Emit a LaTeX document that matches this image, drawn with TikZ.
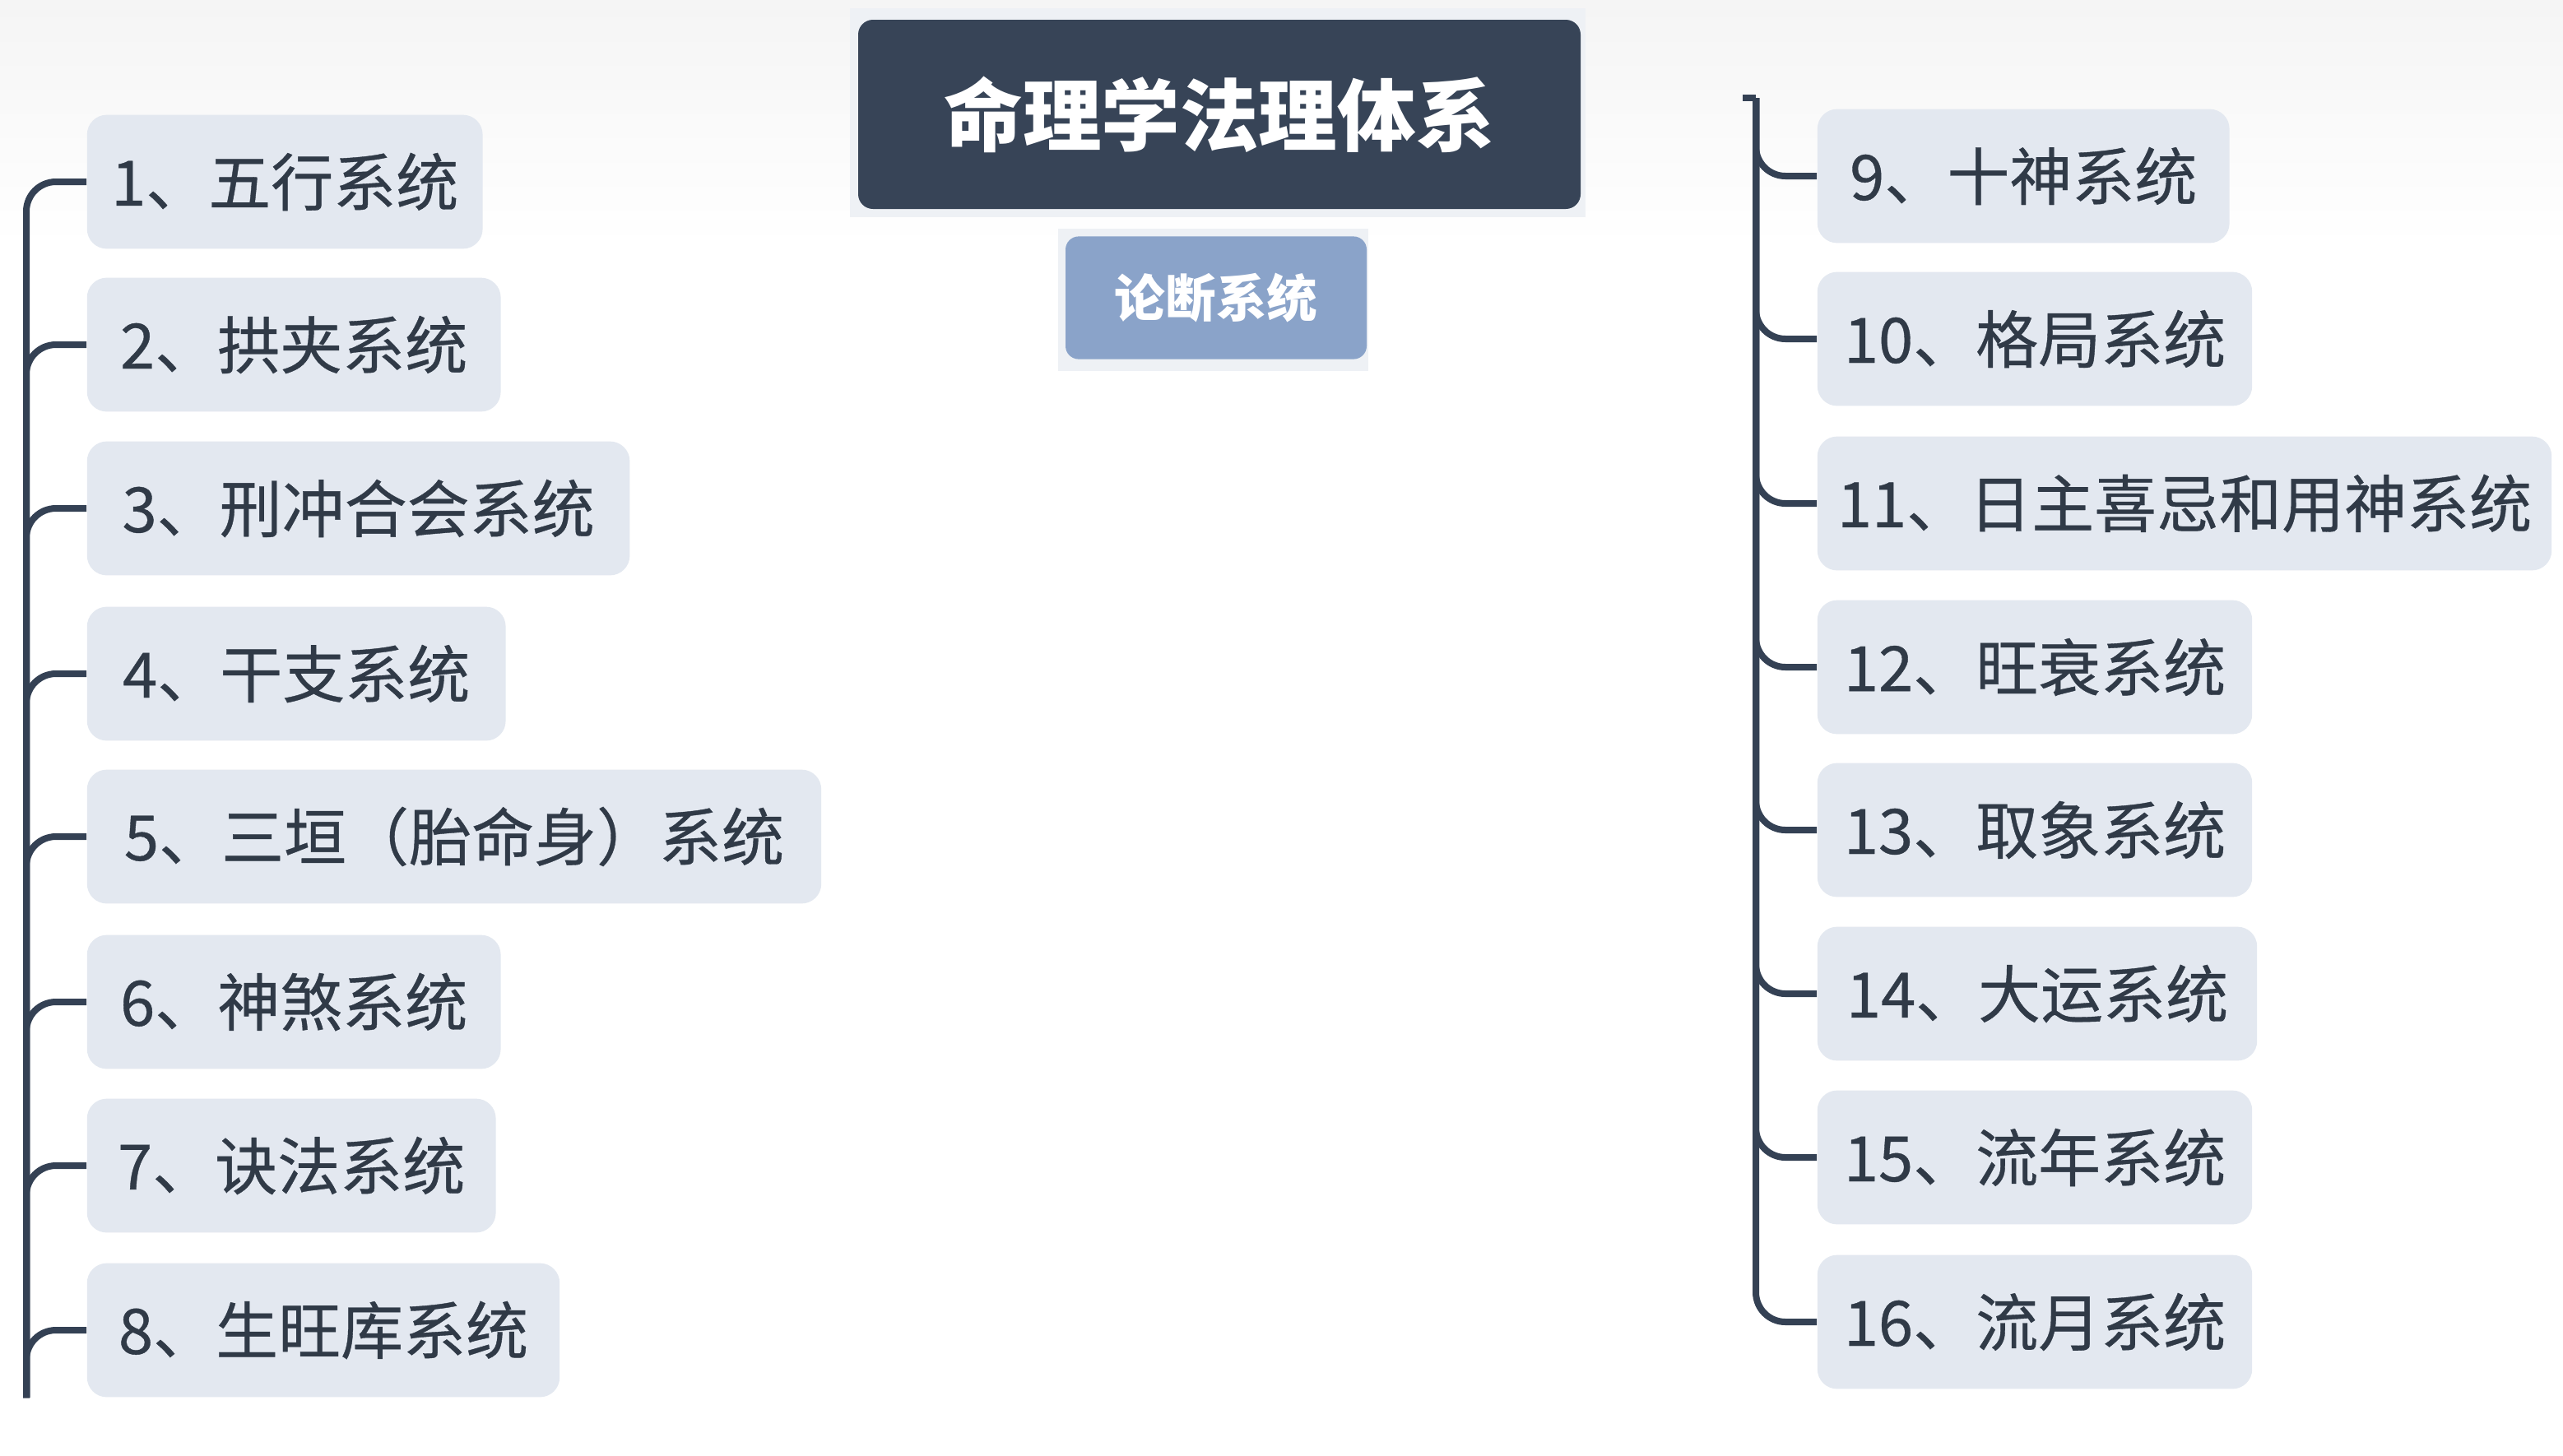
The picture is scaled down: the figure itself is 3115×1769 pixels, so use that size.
\documentclass[tikz,border=0pt]{standalone}
\usepackage{fontspec}
\newfontfamily\cjk{Noto Sans CJK SC}
\newfontfamily\cjkitem[FakeBold=0.5]{Noto Sans CJK SC}
\usetikzlibrary{positioning}
\definecolor{TitleFill}{HTML}{374457}
\definecolor{SubFill}{HTML}{8AA3C9}
\definecolor{ItemFill}{HTML}{E3E8F0}
\definecolor{ItemText}{HTML}{303A47}
\definecolor{BranchLine}{HTML}{344154}
\definecolor{HaloFill}{HTML}{EEF1F5}

\begin{document}
\begin{tikzpicture}[x=0.25pt, y=-0.25pt,
    item/.style={fill=ItemFill, rounded corners=6pt, anchor=west, minimum height=40.7pt,
        inner xsep=5.5pt, text=ItemText, font=\cjkitem\fontsize{19}{21}\selectfont},
    titlebox/.style={fill=TitleFill, rounded corners=4.5pt, minimum width=219.5pt,
        minimum height=57.5pt, text=white, font=\cjk\bfseries\fontsize{23.9}{26}\selectfont},
    subbox/.style={fill=SubFill, rounded corners=4pt, minimum width=91.5pt,
        minimum height=37.3pt, text=white, font=\cjk\bfseries\fontsize{15.4}{17}\selectfont},
    branch/.style={draw=BranchLine, line width=2pt, rounded corners=9pt}]

    \useasboundingbox (0,0) rectangle (3115,1769);
    \fill[white] (0,0) rectangle (3115,1769);
    \shade[top color=black!4, bottom color=white] (0,0) rectangle (3115,300);

    % Halos
    \fill[HaloFill] (1033,10) rectangle (1927,264);
    \fill[HaloFill] (1286,278) rectangle (1663,451);

    \node[titlebox] (root) at (1482,139) {命理学法理体系};
    \node[subbox] (judge) at (1478,362) {论断系统};

    % Columna izquierda
    \node[item, minimum width=120.2pt] (n1) at (105,221) {1、五行系统};
    \node[item, minimum width=125.7pt] (n2) at (105,419) {2、拱夹系统};
    \node[item, minimum width=164.9pt] (n3) at (105,618) {3、刑冲合会系统};
    \node[item, minimum width=127.2pt] (n4) at (105,819) {4、干支系统};
    \node[item, minimum width=223.1pt] (n5) at (105,1017) {5、三垣（胎命身）系统};
    \node[item, minimum width=125.7pt] (n6) at (105,1218) {6、神煞系统};
    \node[item, minimum width=124.2pt] (n7) at (105,1417) {7、诀法系统};
    \node[item, minimum width=143.6pt] (n8) at (105,1617) {8、生旺库系统};

    % Columna derecha
    \node[item, minimum width=125.2pt] (n9) at (2208,214) {9、十神系统};
    \node[item, minimum width=132.1pt] (n10) at (2208,412) {10、格局系统};
    \node[item, minimum width=223.1pt] (n11) at (2208,612) {11、日主喜忌和用神系统};
    \node[item, minimum width=132.1pt] (n12) at (2208,811) {12、旺衰系统};
    \node[item, minimum width=132.1pt] (n13) at (2208,1009) {13、取象系统};
    \node[item, minimum width=133.6pt] (n14) at (2208,1208) {14、大运系统};
    \node[item, minimum width=132.1pt] (n15) at (2208,1407) {15、流年系统};
    \node[item, minimum width=132.1pt] (n16) at (2208,1607) {16、流月系统};

    \coordinate (Lbot) at (32,1699);
    \coordinate (Rtop) at (2134,119);

    \draw[branch] (n1.west) -| (Lbot);
    \draw[branch] (n2.west) -| (Lbot);
    \draw[branch] (n3.west) -| (Lbot);
    \draw[branch] (n4.west) -| (Lbot);
    \draw[branch] (n5.west) -| (Lbot);
    \draw[branch] (n6.west) -| (Lbot);
    \draw[branch] (n7.west) -| (Lbot);
    \draw[branch] (n8.west) -| (Lbot);

    \draw[draw=BranchLine, line width=2pt] (2118,119) -- (Rtop);
    \draw[branch] (Rtop) |- (n9.west);
    \draw[branch] (Rtop) |- (n10.west);
    \draw[branch] (Rtop) |- (n11.west);
    \draw[branch] (Rtop) |- (n12.west);
    \draw[branch] (Rtop) |- (n13.west);
    \draw[branch] (Rtop) |- (n14.west);
    \draw[branch] (Rtop) |- (n15.west);
    \draw[branch] (Rtop) |- (n16.west);
\end{tikzpicture}
\end{document}
